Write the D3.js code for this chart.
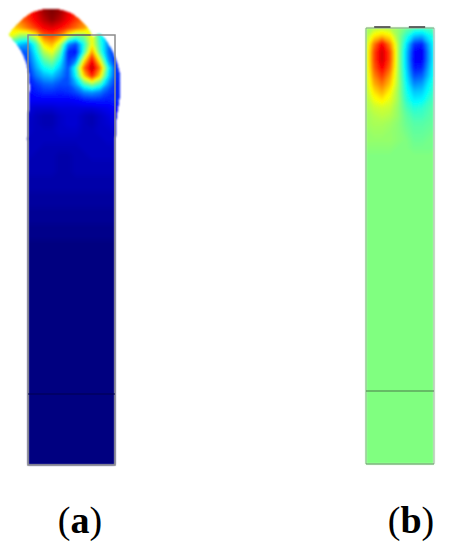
<!DOCTYPE html>
<html><head><meta charset="utf-8">
<script src="https://cdnjs.cloudflare.com/ajax/libs/d3/7.8.5/d3.min.js"></script>
<style>html,body{margin:0;background:#fff}svg{display:block}</style></head>
<body><svg id="c" width="453" height="550"></svg>
<script>
const panelLabels = ["a","b"];
// Field values, 0 = darkest blue, 1 = darkest red.
const fieldA = [
[.78,.78,.84,.9,.97,1,.97,.9,.84,.78,.7,.4,.3,.2],
[.72,.76,.82,.88,.94,.98,.94,.88,.82,.76,.66,.4,.3,.2],
[.66,.7,.76,.82,.88,.9,.87,.82,.77,.72,.62,.38,.3,.2],
[.6,.52,.5,.6,.77,.8,.73,.58,.47,.5,.62,.4,.3,.2],
[.4,.32,.28,.43,.65,.7,.57,.27,.2,.4,.62,.42,.26,.18],
[.2,.2,.22,.38,.55,.61,.47,.16,.14,.42,.72,.45,.24,.16],
[.15,.15,.2,.33,.46,.51,.39,.17,.24,.62,.87,.6,.28,.15],
[.12,.14,.17,.29,.38,.42,.32,.2,.42,.77,.94,.75,.4,.17],
[.12,.13,.15,.24,.3,.32,.26,.2,.38,.66,.84,.65,.36,.17],
[.12,.12,.14,.18,.22,.23,.2,.2,.29,.44,.52,.44,.27,.16],
[.12,.12,.13,.15,.17,.17,.16,.17,.2,.26,.28,.25,.19,.16],
[.12,.12,.12,.12,.12,.12,.12,.12,.13,.15,.16,.16,.15,.16],
[.11,.1,.09,.08,.08,.08,.09,.09,.09,.09,.09,.1,.11,.13],
[.1,.09,.08,.06,.05,.05,.07,.08,.08,.06,.05,.07,.09,.11],
[.09,.08,.07,.06,.05,.05,.07,.08,.08,.06,.05,.07,.08,.1],
[.08,.07,.07,.06,.06,.06,.07,.07,.07,.06,.06,.07,.07,.08],
[.07,.07,.06,.06,.06,.06,.06,.06,.06,.06,.06,.06,.07,.07],
[.06,.06,.06,.06,.05,.05,.05,.05,.05,.06,.06,.06,.06,.06],
[.06,.06,.06,.05,.05,.05,.04,.04,.05,.05,.06,.06,.06,.06],
[.05,.05,.05,.05,.05,.05,.04,.04,.05,.05,.05,.05,.05,.05],
[.05,.05,.05,.05,.05,.05,.04,.04,.05,.05,.05,.05,.05,.05],
[.04,.04,.04,.04,.04,.04,.04,.04,.04,.04,.04,.04,.04,.04],
[.04,.04,.04,.04,.04,.04,.04,.04,.04,.04,.04,.04,.04,.04],
[.03,.03,.03,.03,.03,.03,.03,.03,.03,.03,.03,.03,.03,.03],
[.03,.03,.03,.03,.03,.03,.03,.03,.03,.03,.03,.03,.03,.03],
[.02,.02,.02,.02,.02,.02,.02,.02,.02,.02,.02,.02,.02,.02],
[.02,.02,.02,.02,.02,.02,.02,.02,.02,.02,.02,.02,.02,.02],
[.01,.01,.01,.01,.01,.01,.01,.01,.01,.01,.01,.01,.01,.01],
[.01,.01,.01,.01,.01,.01,.01,.01,.01,.01,.01,.01,.01,.01],
[0,0,0,0,0,0,0,0,0,0,0,0,0,0]
];
const fieldB = [
[.53,.55,.56,.55,.52,.48,.45,.44,.45,.47],
[.54,.64,.68,.64,.52,.42,.32,.30,.38,.46],
[.55,.75,.88,.74,.54,.36,.18,.16,.32,.46],
[.55,.8,.92,.8,.54,.33,.13,.11,.3,.46],
[.55,.8,.92,.8,.54,.33,.12,.12,.3,.46],
[.55,.78,.88,.77,.54,.34,.15,.16,.32,.46],
[.55,.74,.82,.72,.54,.36,.2,.22,.34,.46],
[.55,.7,.76,.68,.54,.38,.26,.28,.38,.46],
[.55,.65,.7,.63,.53,.4,.32,.33,.4,.47],
[.54,.61,.64,.6,.53,.42,.36,.37,.43,.47],
[.54,.57,.58,.57,.52,.45,.41,.42,.45,.48],
[.53,.55,.56,.55,.52,.47,.44,.44,.46,.48],
[.53,.54,.54,.53,.51,.48,.46,.46,.47,.48],
[.52,.53,.53,.52,.51,.49,.47,.47,.48,.49],
[.52,.52,.52,.52,.51,.5,.48,.48,.49,.49],
[.51,.51,.51,.51,.5,.5,.49,.49,.49,.5],
[.5,.5,.5,.5,.5,.5,.5,.5,.5,.5]
];
// Deformed top of panel (a); below it the walls are straight.
const outlineTop = [[9,35],[14,28],[22,20],[32,13],[42,10],[50,9],[60,10],[72,14],[82,22],[89,30],[93,38]];
const outlineRight = [[96,35],[101,35],[108,44],[115,58],[119,72],[120,85],[119,100],[116,120],[115,140]];
const outlineLeft = [[28,140],[29,110],[30,85],[28,68],[24,56],[17,44],[9,35]];
const bottomCorners = [[115,465],[28,465]];

const svg = d3.select("#c");
const defs = svg.append("defs");
defs.append("filter").attr("id","soft").attr("x","-10%").attr("y","-10%").attr("width","120%").attr("height","120%")
  .append("feGaussianBlur").attr("stdDeviation",1.1);
defs.append("filter").attr("id","lineSoft").append("feGaussianBlur").attr("stdDeviation",0.4);

const jet = d3.scaleLinear()
  .domain([0,.125,.375,.625,.875,1])
  .range(["#000080","#0000ff","#00ffff","#ffff00","#ff0000","#800000"]);

function drawField(parent, field, x0, y0, step) {
  const rows = [field[0], ...field, field[field.length-1]]
    .map(r => [r[0], ...r, r[r.length-1]]);
  const w = rows[0].length, h = rows.length;
  const thresholds = d3.range(0.0025, 1.0, 0.005);
  const cont = d3.contours().size([w,h]).smooth(true).thresholds(thresholds)(rows.flat());
  const sx = d3.scaleLinear().domain([1.5,2.5]).range([x0,x0+step]);
  const sy = d3.scaleLinear().domain([1.5,2.5]).range([y0,y0+step]);
  const path = d3.geoPath(d3.geoTransform({point(x,y){this.stream.point(sx(x),sy(y));}}));
  parent.selectAll(null).data(cont).join("path")
    .attr("d",path).attr("fill",d=>jet(d.value+.0025));
}

// Panel (a)
const ax = d3.scaleLinear().domain([0,1]).range([28,115]);
const ay = d3.scaleLinear().domain([0,1]).range([35,465]);
const curve = d3.line().curve(d3.curveCatmullRom.alpha(.5));
const straight = pts => pts.map(p=>"L"+p.join(",")).join("");
const outlinePath = curve(outlineTop) + curve(outlineRight).replace(/^M/,"L")
  + straight(bottomCorners) + curve(outlineLeft).replace(/^M/,"L") + "Z";
defs.append("clipPath").attr("id","clipA").append("path").attr("d",outlinePath);
const gA = svg.append("g").attr("filter","url(#soft)").append("g").attr("clip-path","url(#clipA)");
gA.append("rect").attr("x",0).attr("y",0).attr("width",140).attr("height",480).attr("fill",jet(0));
drawField(gA, fieldA, 12, 12, 8);
const fA = svg.append("g").attr("filter","url(#lineSoft)").attr("fill","none");
fA.append("rect").attr("x",ax(0)).attr("y",ay(0)).attr("width",ax(1)-ax(0)).attr("height",ay(1)-ay(0))
  .attr("stroke","#8c8c8c").attr("stroke-width",1.5);
fA.append("line").attr("x1",ax(.12)).attr("x2",ax(.72)).attr("y1",ay(0)).attr("y2",ay(0)).attr("stroke","#5a5a4a").attr("stroke-width",1.2);
fA.append("line").attr("x1",ax(0)).attr("x2",ax(1)).attr("y1",394).attr("y2",394).attr("stroke","#000050").attr("stroke-width",1.2);

// Panel (b)
const bx = d3.scaleLinear().domain([0,1]).range([366,434]);
const by = d3.scaleLinear().domain([0,1]).range([28,464]);
defs.append("clipPath").attr("id","clipB").append("rect").attr("x",bx(0)).attr("y",by(0)).attr("width",bx(1)-bx(0)).attr("height",by(1)-by(0));
const gB = svg.append("g").attr("filter","url(#soft)").append("g").attr("clip-path","url(#clipB)");
gB.append("rect").attr("x",bx(0)).attr("y",by(0)).attr("width",bx(1)-bx(0)).attr("height",by(1)-by(0)).attr("fill",jet(.5));
drawField(gB, fieldB, 366, 28, 8);
const fB = svg.append("g").attr("filter","url(#lineSoft)").attr("fill","none");
fB.append("line").attr("x1",bx(1)).attr("x2",bx(1)).attr("y1",by(0)).attr("y2",by(1)).attr("stroke","#bdbdbd").attr("stroke-width",1.2);
fB.append("line").attr("x1",bx(0)).attr("x2",bx(0)).attr("y1",by(0)).attr("y2",by(1)).attr("stroke","#8fc08f").attr("stroke-width",1.2);
fB.append("line").attr("x1",bx(0)).attr("x2",bx(1)).attr("y1",by(1)).attr("y2",by(1)).attr("stroke","#5f8f5f").attr("stroke-width",1.2);
fB.append("line").attr("x1",bx(0)).attr("x2",bx(1)).attr("y1",by(0)).attr("y2",by(0)).attr("stroke","#80a080").attr("stroke-width",1);
fB.append("line").attr("x1",bx(0)).attr("x2",bx(1)).attr("y1",391).attr("y2",391).attr("stroke","#4d7a4d").attr("stroke-width",1.2);
[[.12,.36],[.63,.87]].forEach(e=>fB.append("line").attr("x1",bx(e[0])).attr("x2",bx(e[1])).attr("y1",27).attr("y2",27).attr("stroke","#555").attr("stroke-width",1.8));

// Labels
const labelX = d3.scaleOrdinal().domain(panelLabels).range([80,411]);
const lab = svg.append("g").selectAll("text").data(panelLabels).join("text")
  .attr("x",d=>labelX(d)).attr("y",533).attr("text-anchor","middle")
  .attr("font-family","'Liberation Serif',serif").attr("font-size",38).attr("fill","#000");
lab.append("tspan").text("(");
lab.append("tspan").attr("font-weight","bold").text(d=>d);
lab.append("tspan").text(")");
</script></body></html>
